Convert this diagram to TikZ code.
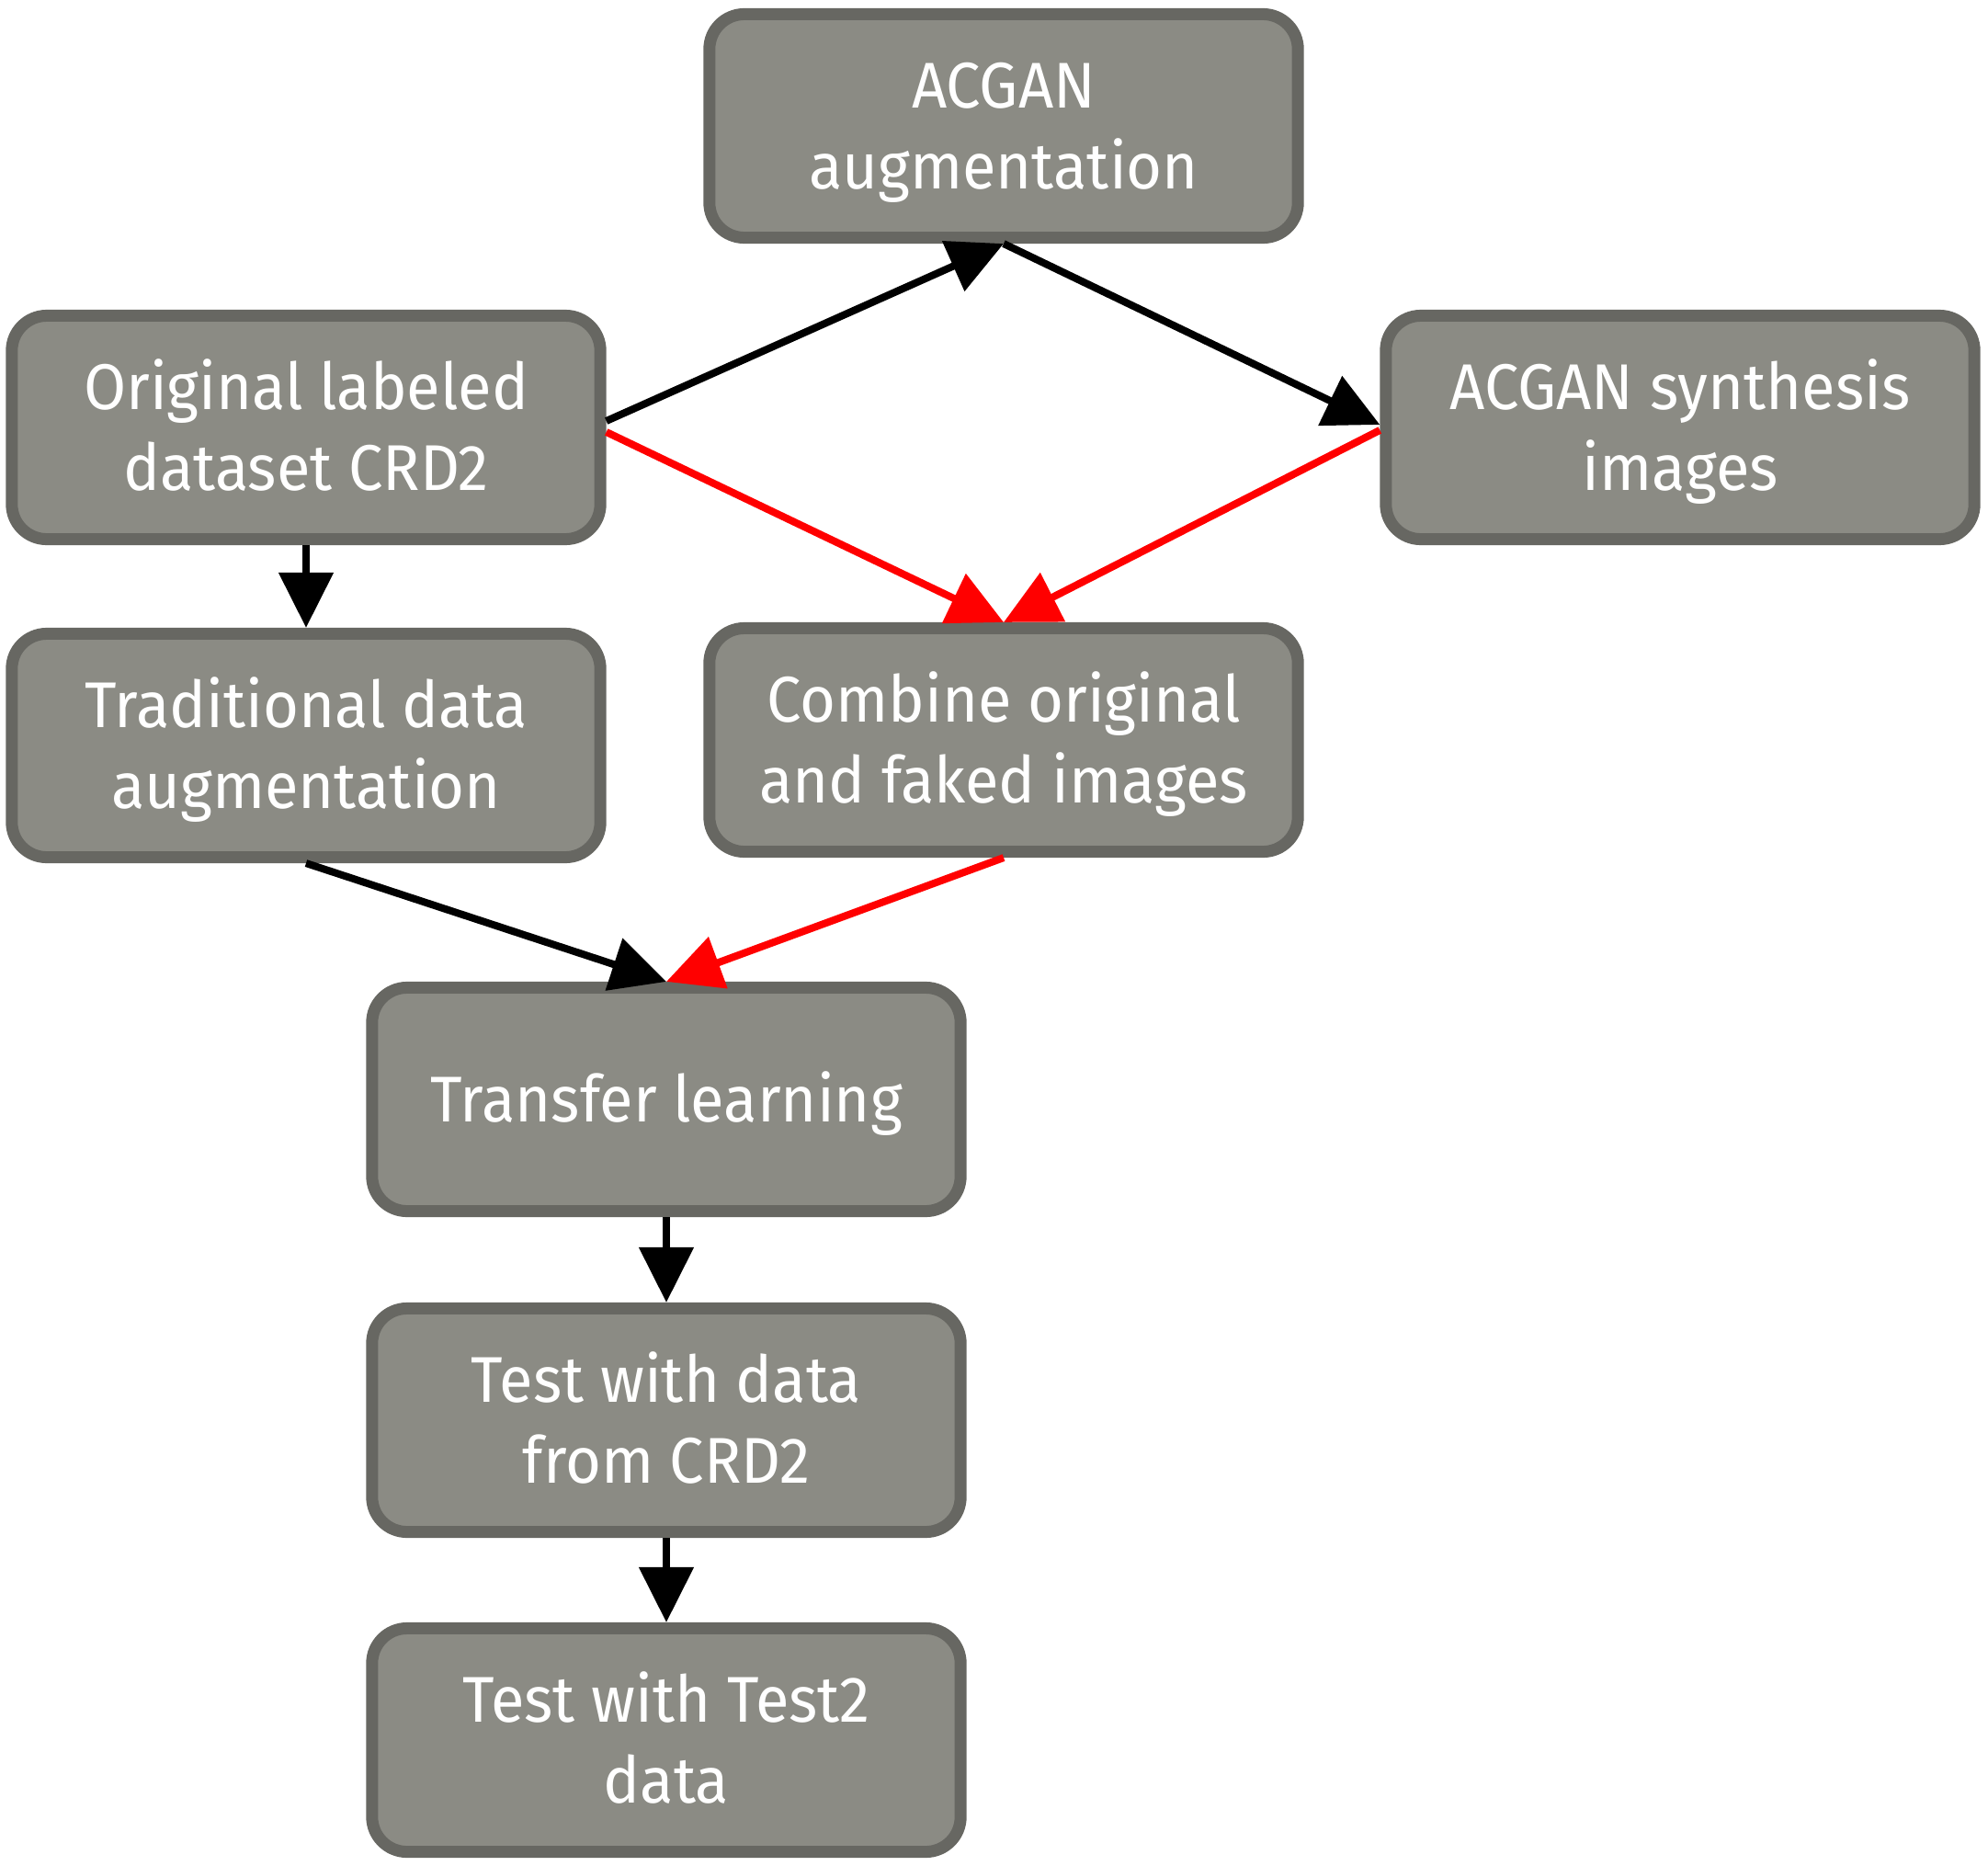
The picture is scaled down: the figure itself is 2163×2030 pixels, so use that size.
\documentclass[tikz,border=0pt]{standalone}
\usepackage{fontspec}
\setmainfont{Fira Sans}[FakeStretch=0.95]
\usetikzlibrary{arrows.meta,calc}
\definecolor{boxfill}{HTML}{8B8B84}
\definecolor{boxline}{HTML}{676762}
\definecolor{redline}{HTML}{FF0000}
\newcommand\topstr{\rule{0pt}{20pt}}
\newcommand\botstr{\rule[-6pt]{0pt}{6pt}}
\begin{document}
\begin{tikzpicture}[x=0.01cm,y=-0.01cm,
  box/.style={draw=boxline, fill=boxfill, line width=0.13cm, rounded corners=0.38cm,
    minimum width=6.4cm, minimum height=2.43cm, align=center, text=white,
    font=\fontsize{20}{25}\selectfont, inner sep=0pt},
  conn/.style={line width=0.08cm, draw=black, -{Triangle[length=0.6cm,width=0.58cm]}},
  redconn/.style={conn, draw=redline, fill=redline}]
\useasboundingbox (0,0) rectangle (2163,2030);
\node[box] (aug) at (1092,137) {\topstr ACGAN\\augmentation\botstr};
\node[box] (orig) at (333,465) {\topstr Original labeled\\dataset CRD2\botstr};
\node[box] (synth) at (1828,465) {\topstr ACGAN synthesis\\images\botstr};
\node[box] (trad) at (333,811) {\topstr Traditional data\\augmentation\botstr};
\node[box] (comb) at (1092,805) {\topstr Combine original\\and faked images\botstr};
\node[box] (tl) at (725,1196) {\topstr Transfer learning\botstr};
\node[box] (tcrd) at (725,1545) {\topstr Test with data\\from CRD2\botstr};
\node[box] (ttwo) at (725,1893) {\topstr Test with Test2\\data\botstr};
\coordinate (origE1) at ($(orig.east)+(0,-7)$);
\coordinate (origE2) at ($(orig.east)+(0,5)$);
\coordinate (synW1) at ($(synth.west)+(0,-3)$);
\coordinate (synW2) at ($(synth.west)+(0,3)$);
\draw[conn] (origE1) -- (aug.south);
\draw[conn] (aug.south) -- (synW1);
\draw[redconn] (origE2) -- (comb.north);
\draw[redconn] (synW2) -- (comb.north);
\draw[conn] (orig.south) -- (trad.north);
\draw[conn] (trad.south) -- (tl.north);
\draw[redconn] (comb.south) -- (tl.north);
\draw[conn] (tl.south) -- (tcrd.north);
\draw[conn] (tcrd.south) -- (ttwo.north);
\end{tikzpicture}
\end{document}
